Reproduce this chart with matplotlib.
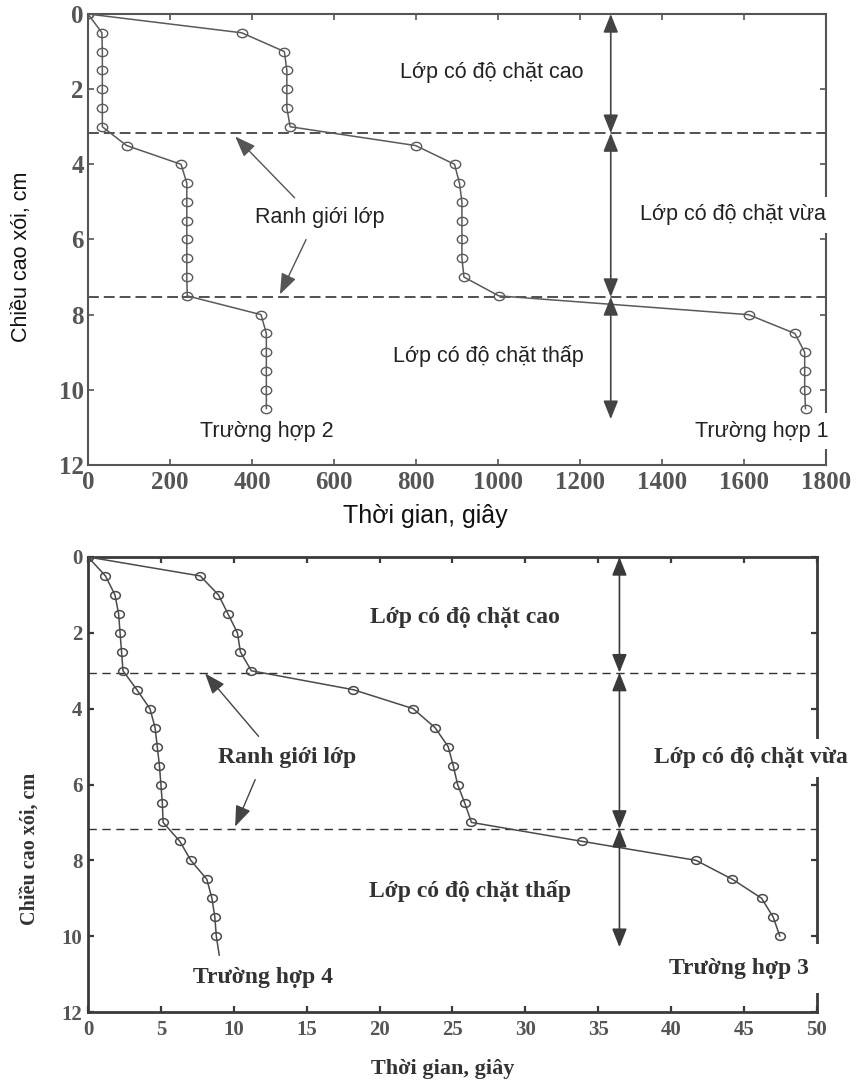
import matplotlib
matplotlib.use('Agg')
import matplotlib.pyplot as plt
from matplotlib.path import Path
from matplotlib.transforms import Affine2D

# --- Data: scour depth (cm) vs time (s) ---
depth_top = [0, 0.5, 1, 1.5, 2, 2.5, 3, 3.5, 4, 4.5, 5, 5.5, 6, 6.5, 7, 7.5,
             8, 8.5, 9, 9.5, 10, 10.5]
time_case1 = [0, 375, 479, 485, 485, 485, 493, 799, 894, 906, 912, 912, 912,
              912, 917, 1002, 1611, 1724, 1748, 1748, 1748, 1750]
time_case2 = [0, 34, 35, 35, 35, 35, 35, 94, 227, 241, 241, 241, 241, 241,
              241, 242, 422, 435, 435, 435, 435, 435]
bounds_top = [3.17, 7.53]

depth_case3 = [0, 0.5, 1, 1.5, 2, 2.5, 3, 3.5, 4, 4.5, 5, 5.5, 6, 6.5, 7,
               7.5, 8, 8.5, 9, 9.5, 10]
time_case3 = [0, 7.7, 8.95, 9.6, 10.25, 10.45, 11.2, 18.2, 22.3, 23.8, 24.7,
              25.05, 25.35, 25.85, 26.3, 33.9, 41.7, 44.2, 46.2, 47.0, 47.45]
depth_case4 = [0, 0.5, 1, 1.5, 2, 2.5, 3, 3.5, 4, 4.5, 5, 5.5, 6, 6.5, 7,
               7.5, 8, 8.5, 9, 9.5, 10, 10.5]
time_case4 = [0, 1.2, 1.85, 2.1, 2.2, 2.3, 2.4, 3.35, 4.25, 4.6, 4.75, 4.9,
              5.0, 5.1, 5.15, 6.3, 7.05, 8.15, 8.5, 8.7, 8.8, 9.0]
bounds_bottom = [3.05, 7.17]

SANS = ['Liberation Sans', 'DejaVu Sans']
SERIF = ['Liberation Serif', 'DejaVu Serif']

# slightly wide open-circle marker
ellipse = Path.unit_circle().transformed(Affine2D().scale(1.25, 1.0))

fig = plt.figure(figsize=(8.62, 10.85), dpi=100)
W, H = 862, 1085


def add_axes_px(left, top, right, bottom):
    return fig.add_axes([left / W, 1 - bottom / H, (right - left) / W, (bottom - top) / H])


def style_axes(ax, color, lw, size, pad_x, pad_y):
    for s in ax.spines.values():
        s.set_color(color)
        s.set_linewidth(lw)
    ax.tick_params(direction='in', top=True, right=True, length=4, width=lw * 0.8,
                   color=color, labelcolor='#555555', labelsize=size)
    ax.tick_params(axis='x', pad=pad_x)
    ax.tick_params(axis='y', pad=pad_y)
    for lbl in ax.get_xticklabels() + ax.get_yticklabels():
        lbl.set_fontfamily(SERIF)
        lbl.set_fontweight('bold')


def double_arrow(ax, x, y0, y1, color, ms):
    ax.annotate('', xy=(x, y0), xytext=(x, y1),
                arrowprops=dict(arrowstyle='<|-|>,head_length=0.75,head_width=0.3',
                                color=color, lw=1.2, shrinkA=0, shrinkB=0,
                                mutation_scale=ms))


def pointer(ax, start, end, color, ms):
    ax.annotate('', xy=end, xytext=start,
                arrowprops=dict(arrowstyle='-|>,head_length=0.8,head_width=0.3',
                                color=color, lw=1.0, shrinkA=0, shrinkB=0,
                                mutation_scale=ms))


# ---------------- Upper chart (cases 1 and 2) ----------------
ax1 = add_axes_px(88, 14, 826, 465)
line_kw = dict(color='#5a5a5a', lw=1.1, marker=ellipse, markersize=7.5,
               markerfacecolor='none', markeredgecolor='#5a5a5a', markeredgewidth=1.0,
               zorder=3)
ax1.plot(time_case1, depth_top, **line_kw)
ax1.plot(time_case2, depth_top, **line_kw)
for b in bounds_top:
    ax1.axhline(b, color='#333333', lw=1.2, dashes=(6.5, 3), zorder=1.5)

ax1.set_xlim(0, 1800)
ax1.set_ylim(12, 0)
ax1.set_xticks(range(0, 1801, 200))
ax1.set_yticks(range(0, 13, 2))
style_axes(ax1, '#555555', 1.5, 18, 4, 3)

arrow_x1 = 1275
double_arrow(ax1, arrow_x1, 0, bounds_top[0], '#444444', 15)
double_arrow(ax1, arrow_x1, bounds_top[0], bounds_top[1], '#444444', 15)
double_arrow(ax1, arrow_x1, bounds_top[1], 10.78, '#444444', 15)

# labels sit above the spines (2.5) but below the data lines (3)
t_kw = dict(family=SANS, fontsize=15.5, color='#222222', ha='center', va='center',
            zorder=2.8)
box = dict(boxstyle='square,pad=0.35', facecolor='white', edgecolor='none')
ax1.text(985, 1.56, 'Lớp có độ chặt cao', **t_kw)
ax1.text(1573, 5.34, 'Lớp có độ chặt vừa', bbox=box, **t_kw)
ax1.text(976, 9.1, 'Lớp có độ chặt thấp', **t_kw)
ax1.text(565, 5.42, 'Ranh giới lớp', **t_kw)
ax1.text(435, 11.1, 'Trường hợp 2', **t_kw)
ax1.text(1644, 11.1, 'Trường hợp 1', bbox=box, **t_kw)
pointer(ax1, (504, 4.89), (359, 3.26), '#555555', 16)
pointer(ax1, (532, 6.0), (468, 7.46), '#555555', 16)

fig.text(425 / W, 1 - 516 / H, 'Thời gian, giây', family=SANS, fontsize=18,
         ha='center', va='center', color='#111111')
fig.text(21.5 / W, 1 - 257 / H, 'Chiều cao xói, cm', family=SANS, fontsize=15.5,
         rotation=90, ha='center', va='center', color='#111111')

# ---------------- Lower chart (cases 3 and 4) ----------------
ax2 = add_axes_px(88, 557, 817, 1012)
line_kw2 = dict(color='#4a4a4a', lw=1.1, marker=ellipse, markersize=7,
                markerfacecolor='none', markeredgecolor='#4a4a4a', markeredgewidth=1.1,
                zorder=3)
ax2.plot(time_case3, depth_case3, **line_kw2)
ax2.plot(time_case4, depth_case4, markevery=list(range(len(depth_case4) - 1)), **line_kw2)
for b in bounds_bottom:
    ax2.axhline(b, color='#333333', lw=1.0, dashes=(6, 4), zorder=1.5)

ax2.set_xlim(0, 50)
ax2.set_ylim(12, 0)
ax2.set_xticks(range(0, 51, 5))
ax2.set_yticks(range(0, 13, 2))
style_axes(ax2, '#3a3a3a', 2.0, 15, 6, 4)

arrow_x2 = 36.45
double_arrow(ax2, arrow_x2, 0, bounds_bottom[0], '#3a3a3a', 15)
double_arrow(ax2, arrow_x2, bounds_bottom[0], bounds_bottom[1], '#3a3a3a', 15)
double_arrow(ax2, arrow_x2, bounds_bottom[1], 10.29, '#3a3a3a', 15)

s_kw = dict(family=SERIF, fontsize=17, fontweight='bold', color='#333333',
            ha='center', va='center', zorder=2.8)
ax2.text(25.85, 1.6, 'Lớp có độ chặt cao', **s_kw)
ax2.text(45.5, 5.3, 'Lớp có độ chặt vừa', bbox=box, **s_kw)
ax2.text(26.2, 8.82, 'Lớp có độ chặt thấp', **s_kw)
ax2.text(13.63, 5.3, 'Ranh giới lớp', **s_kw)
ax2.text(11.97, 11.1, 'Trường hợp 4', **s_kw)
ax2.text(44.64, 10.86, 'Trường hợp 3',
         bbox=dict(boxstyle='square,pad=0.6', facecolor='white', edgecolor='none'), **s_kw)
pointer(ax2, (11.7, 4.73), (8.03, 3.07), '#444444', 16)
pointer(ax2, (11.47, 5.87), (10.09, 7.11), '#444444', 16)

fig.text(443 / W, 1 - 1069 / H, 'Thời gian, giây', family=SERIF, fontsize=16,
         fontweight='bold', ha='center', va='center', color='#333333')
fig.text(30 / W, 1 - 849 / H, 'Chiều cao xói, cm', family=SERIF, fontsize=14.5,
         fontweight='bold', rotation=90, ha='center', va='center', color='#333333')

fig.savefig('out.png', dpi=100)
